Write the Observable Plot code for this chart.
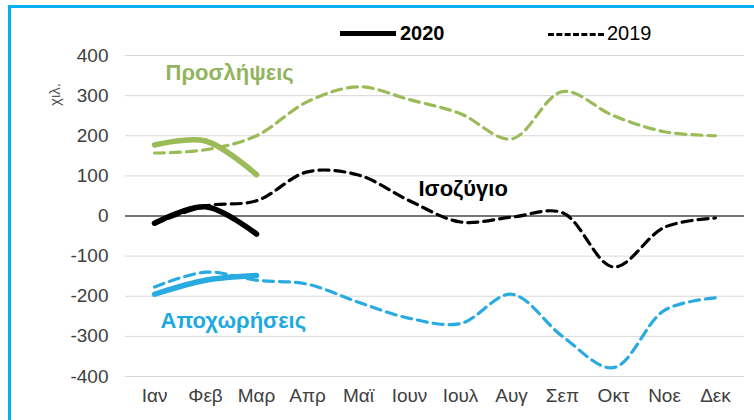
<!DOCTYPE html>
<html>
<head>
<meta charset="utf-8">
<script src="https://cdn.jsdelivr.net/npm/d3@7"></script>
<script src="https://cdn.jsdelivr.net/npm/@observablehq/plot@0.6"></script>
<style>
  body { margin: 0; background: #fff; }
  #wrap { position: relative; width: 754px; height: 420px; overflow: hidden; font-family: "Liberation Sans", Arial, sans-serif; }
  #frame { position: absolute; left: 8px; top: 5px; width: 800px; height: 500px; border-top: 3px solid #00b0f0; border-left: 3px solid #00b0f0; }
  #chart { position: absolute; left: 0; top: 0; }
  .lg { position: absolute; font-size: 20px; color: #000; line-height: 22px; }
  .ylab { position: absolute; left: 43px; top: 86px; transform: rotate(-90deg); font-size: 15px; color: #595959; }
</style>
</head>
<body>
<div id="wrap">
  <div id="frame"></div>
  <div id="chart"></div>
  <div class="lg" style="left:340px; top:24px; width:56px; height:0; border-top:5px solid #000; margin-top:7px;"></div>
  <div class="lg" style="left:400px; top:22px; font-weight:bold;">2020</div>
  <div class="lg" style="left:548px; top:25px; width:56px; height:0; border-top:3px dashed #000; margin-top:8px;"></div>
  <div class="lg" style="left:607px; top:22px;">2019</div>
  <div class="ylab">χιλ.</div>
</div>
<script>
const months = ["Ιαν","Φεβ","Μαρ","Απρ","Μαϊ","Ιουν","Ιουλ","Αυγ","Σεπ","Οκτ","Νοε","Δεκ"];
const hires2019 = [157, 165, 200, 285, 322, 290, 255, 192, 310, 250, 210, 200];
const hires2020 = [177, 187, 103];
const exits2019 = [-177, -140, -160, -170, -215, -255, -268, -195, -300, -378, -235, -204];
const exits2020 = [-195, -160, -148];
const balance2019 = [-20, 25, 38, 110, 102, 38, -15, -3, 8, -127, -28, -5];
const balance2020 = [-18, 23, -45];
const yTicks = [-400, -300, -200, -100, 0, 100, 200, 300, 400];
const labelTexts = ["Προσλήψεις", "Ισοζύγιο", "Αποχωρήσεις"];
const labelMonths = ["Ιαν", "Ιουν", "Ιαν"];
const labelValues = [357, 68, -262];
const labelColors = ["#93b45e", "#000000", "#1ea9e1"];
const labelShifts = [11, 9, 6];

const green = "#9bbb59", blue = "#29abe2", black = "#000000";
function series(vals, year, name, color) {
  return vals.map((v, i) => ({month: months[i], value: v, year, name, color}));
}
const dashed = [
  ...series(hires2019, 2019, "h", green),
  ...series(exits2019, 2019, "e", blue),
  ...series(balance2019, 2019, "b", black)
];
const solid = [
  ...series(hires2020, 2020, "h", green),
  ...series(exits2020, 2020, "e", blue),
  ...series(balance2020, 2020, "b", black)
];
const labelMarks = labelTexts.map((t, i) =>
  Plot.text([{text: t, month: labelMonths[i], value: labelValues[i]}], {
    x: "month", y: "value", text: "text", fill: labelColors[i],
    textAnchor: "start", dx: labelShifts[i], fontSize: 22, fontWeight: "bold"
  })
);

const chart = Plot.plot({
  width: 754,
  height: 420,
  marginLeft: 125,
  marginRight: 10,
  marginTop: 55,
  marginBottom: 44,
  style: {fontFamily: "'Liberation Sans', Arial, sans-serif", fontSize: "19px", color: "#404040", background: "transparent"},
  x: {type: "point", domain: months, padding: 0.5, label: null},
  y: {domain: [-400, 400], label: null},
  marks: [
    Plot.gridY(yTicks, {stroke: "#d9d9d9", strokeOpacity: 1, strokeWidth: 1}),
    Plot.ruleY([0], {stroke: "#000", strokeWidth: 1}),
    Plot.axisY(yTicks, {tickSize: 0, tickPadding: 17, fontSize: 19, fill: "#404040", label: null, tickFormat: d => String(d)}),
    Plot.axisX(months, {tickSize: 0, tickPadding: 12, fontSize: 19, fill: "#404040", label: null}),
    Plot.line(dashed, {x: "month", y: "value", z: "name", stroke: "color", strokeWidth: 3.2, strokeDasharray: "10,6", curve: "catmull-rom"}),
    Plot.line(solid, {x: "month", y: "value", z: "name", stroke: "color", strokeWidth: 5.5, strokeLinecap: "round", curve: "catmull-rom"}),
    ...labelMarks
  ]
});
document.getElementById("chart").appendChild(chart);
</script>
</body>
</html>
